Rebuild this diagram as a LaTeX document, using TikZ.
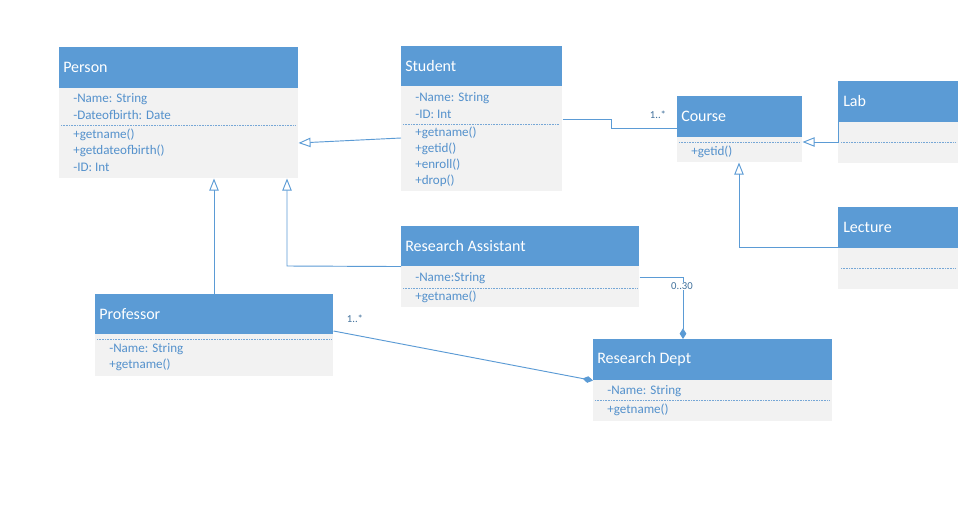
\documentclass[tikz,border=0pt]{standalone}
\usepackage{fontspec}
\setmainfont{Carlito}
\usetikzlibrary{arrows.meta,calc}
\definecolor{hdrblue}{RGB}{91,155,213}
\definecolor{bodygray}{RGB}{242,242,242}
\definecolor{txtblue}{RGB}{84,145,204}
\definecolor{lblblue}{RGB}{65,113,156}
\tikzset{
  hdr/.style={fill=hdrblue, draw=none, anchor=north west, inner sep=0pt},
  bdy/.style={fill=bodygray, draw=none, anchor=north west, inner sep=0pt},
  ttl/.style={anchor=west, text=white, inner sep=0pt, font=\fontsize{12}{14}\selectfont},
  attr/.style={anchor=west, text=txtblue, inner sep=0pt, font=\fontsize{9.8}{11}\selectfont},
  mult/.style={text=lblblue, fill=white, inner sep=0.5pt, font=\fontsize{8}{9}\selectfont},
  sep/.style={draw=txtblue!80, line width=0.45pt, dash pattern=on 0.6pt off 0.6pt},
  conn/.style={draw=hdrblue, line width=0.7pt},
  gen/.style={conn, -{Triangle[open, length=9pt, width=7pt]}},
  comp/.style={conn, -{Diamond[length=8pt, width=5pt]}}
}
\begin{document}
\begin{tikzpicture}[x=0.75pt,y=-0.75pt]
\useasboundingbox[fill=white] (0,0) rectangle (958,521);

% Person
\node[hdr, minimum width=179.25pt, minimum height=30.75pt] (person) at (59,47) {};
\node[bdy, minimum width=179.25pt, minimum height=67.5pt] (personb) at (59,88) {};
\node[ttl] (persont) at (63,67.5) {Person};
\node[attr] (pa1) at (73,99) {-Name: String};
\node[attr] (pa2) at (73,115) {-Dateofbirth: Date};
\draw[sep] (61,125) -- (295,125);
\node[attr] (pm1) at (73,135) {+getname()};
\node[attr] (pm2) at (73,151) {+getdateofbirth()};
\node[attr] (pm3) at (73,167) {-ID: Int};

% Student
\node[hdr, minimum width=120.75pt, minimum height=30pt] (student) at (401,46) {};
\node[bdy, minimum width=120.75pt, minimum height=78.75pt] (studentb) at (401,86) {};
\node[ttl] (studentt) at (405,66) {Student};
\node[attr] (sa1) at (415,98) {-Name: String};
\node[attr] (sa2) at (415,114) {-ID: Int};
\draw[sep] (403,124) -- (559,124);
\node[attr] (sm1) at (415,133) {+getname()};
\node[attr] (sm2) at (415,149) {+getid()};
\node[attr] (sm3) at (415,165) {+enroll()};
\node[attr] (sm4) at (415,181) {+drop()};

% Course
\node[hdr, minimum width=93.75pt, minimum height=30.75pt] (course) at (677,96) {};
\node[bdy, minimum width=93.75pt, minimum height=18.75pt] (courseb) at (677,137) {};
\node[ttl] (courset) at (681,116.5) {Course};
\draw[sep] (679,142) -- (800,142);
\node[attr] (cm1) at (691,152) {+getid()};

% Lab
\node[hdr, minimum width=90pt, minimum height=30.75pt] (lab) at (838,81) {};
\node[bdy, minimum width=90pt, minimum height=30.75pt] (labb) at (838,122) {};
\node[ttl] (labt) at (843,101) {Lab};
\draw[sep] (841,142) -- (955,142);

% Lecture
\node[hdr, minimum width=90pt, minimum height=30.75pt] (lecture) at (838,207) {};
\node[bdy, minimum width=90pt, minimum height=30.75pt] (lectureb) at (838,248) {};
\node[ttl] (lecturet) at (843,227) {Lecture};
\draw[sep] (841,268) -- (955,268);

% Research Assistant
\node[hdr, minimum width=178.5pt, minimum height=30pt] (ra) at (401,226) {};
\node[bdy, minimum width=178.5pt, minimum height=30.75pt] (rab) at (401,266) {};
\node[ttl] (rat) at (405,246) {Research Assistant};
\node[attr] (raa1) at (415,278) {-Name:String};
\draw[sep] (403,288) -- (637,288);
\node[attr] (ram1) at (415,297) {+getname()};

% Professor
\node[hdr, minimum width=178.5pt, minimum height=30pt] (prof) at (95,294) {};
\node[bdy, minimum width=178.5pt, minimum height=31.5pt] (profb) at (95,334) {};
\node[ttl] (proft) at (99,314) {Professor};
\draw[sep] (97,339) -- (331,339);
\node[attr] (pra1) at (109,349) {-Name: String};
\node[attr] (prm1) at (109,365) {+getname()};

% Research Dept
\node[hdr, minimum width=179.25pt, minimum height=30.75pt] (rd) at (593,339) {};
\node[bdy, minimum width=179.25pt, minimum height=30.75pt] (rdb) at (593,380) {};
\node[ttl] (rdt) at (597,359.5) {Research Dept};
\node[attr] (rda1) at (607,391) {-Name: String};
\draw[sep] (595,400) -- (829,400);
\node[attr] (rdm1) at (607,410) {+getname()};

% Connectors
\draw[gen] (studentb.west |- 0,138) -- (personb.east |- 0,143);
\draw[gen] (prof.north -| 214,0) -- (personb.south -| 214,0);
\draw[gen] (ra.south west) -- (287,266) -- (personb.south -| 287,0);
\draw[conn] (studentb.east |- 0,119) -- (611,119) -- (611,128) -- (course.west |- 0,128);
\draw[gen] (lab.west |- 0,88) -- (838,142) -- (courseb.east |- 0,142);
\draw[gen] (lecture.west |- 0,247) -- (739,247) -- (courseb.south -| 739,0);
\draw[comp] (rab.east |- 0,277) -- (683,277) -- (rd.north -| 683,0);
\draw[comp] (prof.east |- 0,331) -- (rd.south west);

% Multiplicities
\node[mult] (m1) at (658,115) {1..*};
\node[mult] (m2) at (682,286) {0..30};
\node[mult] (m3) at (355,319) {1..*};
\end{tikzpicture}
\end{document}
